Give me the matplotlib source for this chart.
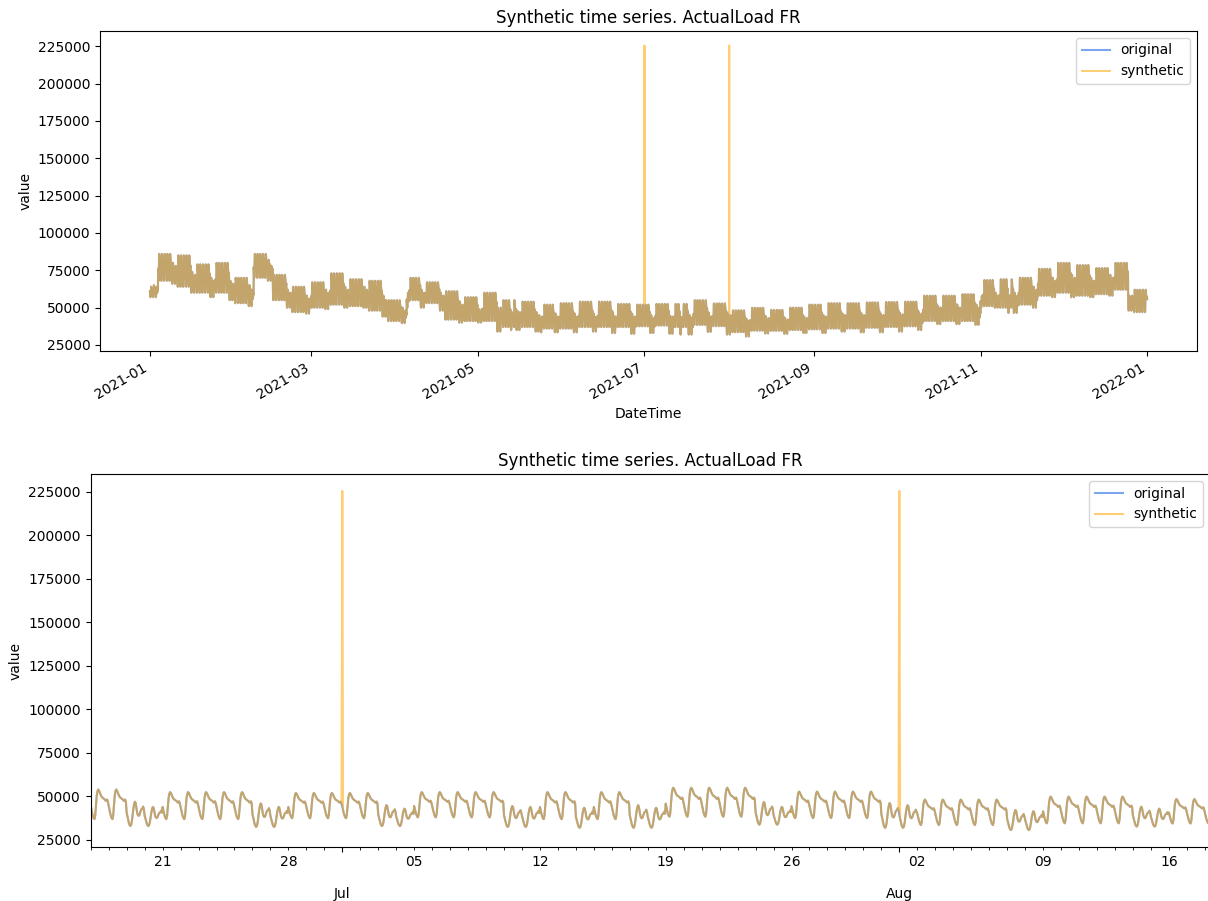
import pandas as pd
import numpy as np
import matplotlib
matplotlib.use("Agg")
import matplotlib.pyplot as plt
import matplotlib.dates as mdates
from matplotlib.ticker import FuncFormatter

# weekly levels, weeks start on Monday 2020-12-28
week_peak = [66000, 86000, 85000, 79000, 80000, 70000, 86000, 72000, 64000, 67000,
             73000, 69000, 68000, 55000, 70000, 67000, 61000, 57000, 60000, 55000,
             54000, 52000, 53000, 54000, 54000, 52500, 52000, 52500, 52500, 55000,
             52800, 48200, 49900, 48500, 50000, 52000, 53000, 53000, 53500, 53800,
             54000, 58000, 58000, 59000, 68500, 69000, 70000, 76000, 80000, 78500,
             76500, 80000, 62000]
week_sat = [65000, 80000, 74000, 70000, 68000, 65000, 82000, 62000, 58000, 62000,
            64000, 64000, 58000, 50000, 62000, 60000, 54000, 50000, 52000, 48000,
            47000, 46000, 46000, 46000, 47000, 46000, 45000, 44500, 45000, 46800,
            46200, 42200, 44100, 43000, 44000, 45000, 46000, 46000, 46000, 46500,
            47000, 51000, 52000, 52000, 60000, 60000, 64000, 70000, 72000, 70000,
            72000, 60000, 58000]
week_sun = [64000, 78000, 72000, 68000, 66000, 62000, 78000, 60000, 56000, 60000,
            62000, 62000, 55000, 48000, 60000, 58000, 52000, 49000, 50000, 47000,
            45000, 44000, 44000, 44000, 44000, 44000, 43000, 44000, 43500, 44000,
            45000, 41500, 43000, 42000, 43000, 44000, 45000, 45000, 45000, 45500,
            46000, 50000, 50000, 50000, 58000, 58000, 62000, 68000, 70000, 68000,
            70000, 58000, 56000]
week_low = [58000, 68000, 64000, 60000, 60000, 53000, 70000, 55000, 47000, 50000,
            52000, 51000, 48000, 41000, 55000, 53000, 42000, 41000, 41000, 37000,
            37000, 36000, 36000, 37000, 37000, 37000, 37500, 38000, 37000, 38400,
            37600, 33600, 34600, 34500, 35000, 35500, 36000, 36000, 36500, 37000,
            37500, 41000, 41000, 41000, 51000, 50000, 52000, 58000, 60000, 58000,
            59000, 62000, 47000]
week_low_we = [57000, 66000, 60000, 57000, 55000, 51000, 68000, 50000, 46000, 49000,
               50000, 50000, 44000, 39700, 50000, 48000, 40000, 40000, 34000, 35000,
               34000, 33500, 33500, 34000, 33000, 32500, 33000, 32500, 32000, 33800,
               32000, 30700, 32700, 32500, 33000, 33000, 34000, 33500, 33500, 34000,
               35000, 39000, 39000, 38500, 50000, 46500, 50000, 57000, 57000, 57000,
               58000, 48000, 46400]

# hourly shape of a day (0 = night trough, 1 = day peak)
workday_shape = [0.45, 0.32, 0.2, 0.1, 0.03, 0.0, 0.12, 0.45, 0.78, 0.94, 1.0, 0.97,
                 0.9, 0.84, 0.78, 0.74, 0.72, 0.7, 0.68, 0.66, 0.62, 0.62, 0.66, 0.58]
weekend_shape = [0.55, 0.4, 0.25, 0.12, 0.04, 0.0, 0.05, 0.2, 0.45, 0.72, 0.9, 1.0,
                 0.95, 0.75, 0.55, 0.45, 0.42, 0.45, 0.55, 0.65, 0.7, 0.72, 0.8, 0.7]

holidays = ["2021-01-01", "2021-04-05", "2021-05-01", "2021-05-08", "2021-05-13",
            "2021-05-24", "2021-07-14", "2021-08-15", "2021-11-01", "2021-11-11",
            "2021-12-25"]

spike_times = ["2021-07-01 00:00", "2021-08-01 00:00"]
spike_values = [225500, 225500]

hours = pd.date_range("2021-01-01 00:00", "2021-12-31 23:00", freq="h")
week = (hours.dayofyear.values - 1 + 4) // 7
dow = hours.dayofweek.values
is_hol = hours.normalize().isin(pd.to_datetime(holidays))
kind = np.where(is_hol | (dow == 6), 2, np.where(dow == 5, 1, 0))

peak = np.where(kind == 0, np.array(week_peak)[week],
                np.where(kind == 1, np.array(week_sat)[week], np.array(week_sun)[week]))
low = np.where(kind == 0, np.array(week_low)[week], np.array(week_low_we)[week])
shape = np.where(kind == 0, np.array(workday_shape)[hours.hour],
                 np.array(weekend_shape)[hours.hour])

original = pd.Series(low + (peak - low) * shape, index=hours)
synthetic = original.copy()
synthetic[pd.to_datetime(spike_times)] = spike_values

fig = plt.figure(figsize=(12.08, 9.01), dpi=100)

# full year
ax1 = fig.add_axes([0.0828, 0.6104, 0.9081, 0.3552])
ax1.plot(original.index, original.values, color="cornflowerblue", alpha=0.85, label="original")
ax1.plot(synthetic.index, synthetic.values, color="orange", alpha=0.55, label="synthetic")
ax1.xaxis.set_major_locator(mdates.MonthLocator(bymonth=[1, 3, 5, 7, 9, 11]))
ax1.xaxis.set_major_formatter(mdates.DateFormatter("%Y-%m"))
plt.setp(ax1.get_xticklabels(), rotation=30, ha="right")
ax1.set_xlabel("DateTime")
ax1.set_ylabel("value")
ax1.set_title("Synthetic time series. ActualLoad FR")
ax1.legend(loc="upper right")

# zoom around the spikes
start, end = "2021-06-17 00:00", "2021-08-18 07:00"
orig_w = original[start:end]
syn_w = synthetic[start:end]

ax2 = fig.add_axes([0.0751, 0.0599, 0.9266, 0.414])
ax2.plot(orig_w.index, orig_w.values, color="cornflowerblue", alpha=0.85, label="original")
ax2.plot(syn_w.index, syn_w.values, color="orange", alpha=0.55, label="synthetic")
ax2.set_xlim(orig_w.index[0], orig_w.index[-1])
ax2.xaxis.set_major_locator(mdates.MonthLocator())
ax2.xaxis.set_major_formatter(mdates.DateFormatter("%b"))
ax2.tick_params(axis="x", which="major", pad=25)
ax2.xaxis.set_minor_locator(mdates.DayLocator())


def monday_label(x, pos):
    d = mdates.num2date(x)
    return d.strftime("%d") if d.weekday() == 0 else ""


ax2.xaxis.set_minor_formatter(FuncFormatter(monday_label))
ax2.set_ylabel("value")
ax2.set_title("Synthetic time series. ActualLoad FR")
ax2.legend(loc="upper right")

fig.savefig("out.png", dpi=100)
